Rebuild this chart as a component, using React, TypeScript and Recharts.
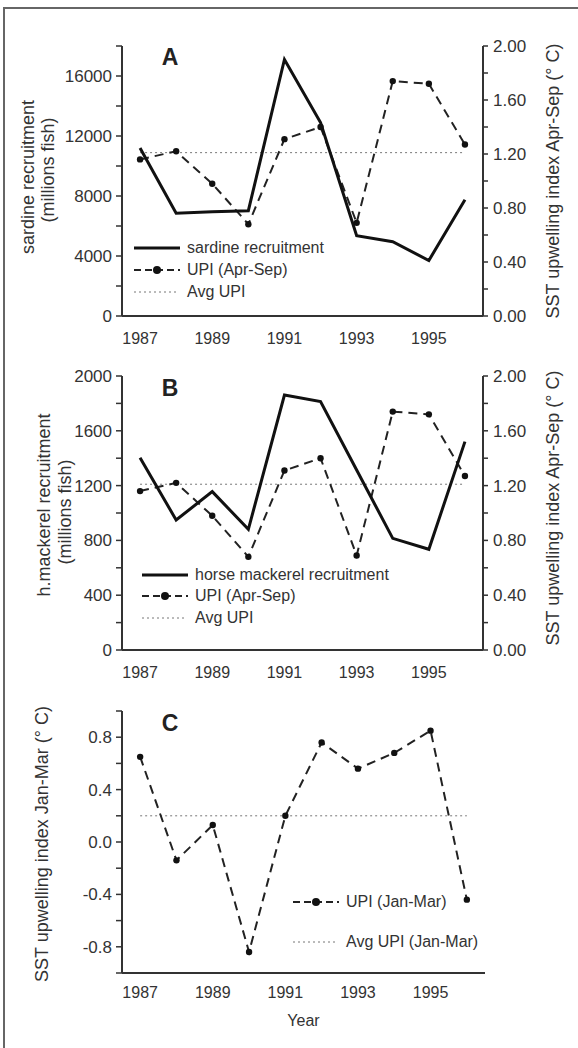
import React from 'react';
import { LineChart, Line, XAxis, YAxis, ReferenceLine, Legend } from 'recharts';

// values
const YEARS = [1987, 1988, 1989, 1990, 1991, 1992, 1993, 1994, 1995, 1996];
const SARDINE = [11200, 6850, 6950, 7020, 17100, 12900, 5350, 4950, 3700, 7750];
const HORSE_MACKEREL = [1404, 949, 1156, 881, 1861, 1813, 1314, 815, 735, 1521];
const UPI_APR_SEP = [1.16, 1.22, 0.98, 0.68, 1.31, 1.4, 0.69, 1.74, 1.72, 1.27];
const UPI_JAN_MAR = [0.65, -0.14, 0.13, -0.84, 0.2, 0.76, 0.56, 0.68, 0.85, -0.44];
const AVG_UPI_APR_SEP = 1.21;
const AVG_UPI_JAN_MAR = 0.2;

const YEAR_LABELS = [1987, 1989, 1991, 1993, 1995];
const YEAR_BOUNDS = [1987.5, 1988.5, 1989.5, 1990.5, 1991.5, 1992.5, 1993.5, 1994.5, 1995.5, 1996.5];
const SARDINE_TICKS = [0, 2000, 4000, 6000, 8000, 10000, 12000, 14000, 16000, 18000];
const MACKEREL_TICKS = [0, 200, 400, 600, 800, 1000, 1200, 1400, 1600, 1800, 2000];
const UPI_TICKS = [0, 0.2, 0.4, 0.6, 0.8, 1.0, 1.2, 1.4, 1.6, 1.8, 2.0];
const JANMAR_TICKS = [-1, -0.8, -0.6, -0.4, -0.2, 0, 0.2, 0.4, 0.6, 0.8, 1];

const rows = YEARS.map((year, i) => ({
  year,
  sardine: SARDINE[i],
  mackerel: HORSE_MACKEREL[i],
  upi: UPI_APR_SEP[i],
  upiJanMar: UPI_JAN_MAR[i],
}));

const INK = '#333';
const X_DOMAIN: [number, number] = [1986.5, 1996.5];
const axisLine = { stroke: INK, strokeWidth: 2 };
const tickLine = { stroke: INK, strokeWidth: 1.5 };
const yTick = { fill: INK, fontSize: 17 };
const xTick = { fill: INK, fontSize: 16 };
const upiDot = { r: 3.2, fill: '#111', stroke: '#111', strokeWidth: 0 };

const every = (step: number, digits: number) => (v: number) =>
  Math.abs(Math.round(v * 1000) % Math.round(step * 1000)) === 0 ? v.toFixed(digits) : '';

type TitleLine = { text: string; x: number; cy: number };
const AxisTitle = ({ lines }: { lines: TitleLine[] }) => (
  <g>
    {lines.map((l) => (
      <text
        key={l.text}
        x={l.x}
        y={l.cy}
        transform={`rotate(-90 ${l.x} ${l.cy})`}
        textAnchor="middle"
        dominantBaseline="central"
        fill={INK}
        fontSize={18}
      >
        {l.text}
      </text>
    ))}
  </g>
);

type LegendItem = { label: string; kind: 'solid' | 'dash' | 'dot' };
const PanelLegend = ({ items, rowHeight }: { items: LegendItem[]; rowHeight: number }) => (
  <div style={{ fontSize: 16, color: INK, whiteSpace: 'nowrap' }}>
    {items.map((it) => (
      <div key={it.label} style={{ display: 'flex', alignItems: 'center', height: rowHeight }}>
        <svg width={46} height={12} style={{ marginRight: 7 }}>
          {it.kind === 'solid' && <line x1={0} x2={46} y1={6} y2={6} stroke="#111" strokeWidth={3} />}
          {it.kind === 'dash' && (
            <>
              <line x1={0} x2={46} y1={6} y2={6} stroke="#222" strokeWidth={2} strokeDasharray="7 4" />
              <circle cx={23} cy={6} r={4} fill="#111" />
            </>
          )}
          {it.kind === 'dot' && (
            <line x1={0} x2={44} y1={6} y2={6} stroke="#777" strokeWidth={1} strokeDasharray="2 3" />
          )}
        </svg>
        <span>{it.label}</span>
      </div>
    ))}
  </div>
);

// axis 0 carries the tick marks at the year boundaries (next to the plot),
// axis 1 carries the year labels below it
const XAxes = ({ labelMargin, labelHeight, year }: { labelMargin: number; labelHeight: number; year?: boolean }) => [
  <XAxis
    key="lab"
    xAxisId={1}
    type="number"
    dataKey="year"
    domain={X_DOMAIN}
    allowDataOverflow
    ticks={YEAR_LABELS}
    interval={0}
    axisLine={false}
    tickLine={false}
    tickSize={0}
    tickMargin={labelMargin}
    height={labelHeight}
    tick={xTick}
    label={year ? { value: 'Year', position: 'insideBottom', offset: 5, fill: INK, fontSize: 16 } : undefined}
  />,
  <XAxis
    key="tk"
    xAxisId={0}
    type="number"
    dataKey="year"
    domain={X_DOMAIN}
    allowDataOverflow
    ticks={YEAR_BOUNDS}
    interval={0}
    tick={false}
    tickSize={6}
    height={6}
    axisLine={axisLine}
    tickLine={tickLine}
  />,
];

const PanelLetter = ({ letter, top }: { letter: string; top: number }) => (
  <div
    style={{
      position: 'absolute',
      left: 158,
      top,
      width: 24,
      textAlign: 'center',
      fontSize: 23,
      fontWeight: 'bold',
      lineHeight: '23px',
      color: '#222',
    }}
  >
    {letter}
  </div>
);

const UpiRightAxis = ({ cy }: { cy: number }) => (
  <YAxis
    yAxisId="r"
    orientation="right"
    domain={[0, 2]}
    ticks={UPI_TICKS}
    interval={0}
    width={95}
    tickSize={5}
    tickMargin={5}
    tickFormatter={every(0.4, 2)}
    axisLine={axisLine}
    tickLine={tickLine}
    tick={yTick}
    label={<AxisTitle lines={[{ text: 'SST upwelling index Apr-Sep (° C)', x: 553, cy }]} />}
  />
);

const AvgLine = ({ yAxisId, value }: { yAxisId: string; value: number }) => (
  <ReferenceLine
    xAxisId={0}
    yAxisId={yAxisId}
    segment={[
      { x: YEARS[0], y: value },
      { x: YEARS[YEARS.length - 1], y: value },
    ]}
    stroke="#777"
    strokeWidth={1}
    strokeDasharray="2 3"
  />
);

export default function App() {
  return (
    <div
      style={{
        position: 'absolute',
        left: 0,
        top: 0,
        width: 578,
        height: 1048,
        overflow: 'hidden',
        background: '#fff',
        fontFamily: '"Liberation Sans", Arial, sans-serif',
      }}
    >
      <div
        style={{
          position: 'absolute',
          left: 3,
          top: 7,
          width: 640,
          height: 1100,
          border: '2px solid #666',
        }}
      />

      {/* A */}
      <div style={{ position: 'absolute', left: 0, top: 0 }}>
        <LineChart width={578} height={350} data={rows} margin={{ top: 46, right: 0, bottom: 0, left: 0 }}>
          {XAxes({ labelMargin: 11, labelHeight: 28 })}
          <YAxis
            yAxisId="l"
            domain={[0, 18000]}
            ticks={SARDINE_TICKS}
            interval={0}
            width={122}
            tickSize={6}
            tickMargin={4}
            tickFormatter={(v: number) => (v % 4000 === 0 ? String(v) : '')}
            axisLine={axisLine}
            tickLine={tickLine}
            tick={yTick}
            label={
              <AxisTitle
                lines={[
                  { text: 'sardine recruitment', x: 28, cy: 177 },
                  { text: '(millions fish)', x: 48, cy: 170 },
                ]}
              />
            }
          />
          {UpiRightAxis({ cy: 181 })}
          {AvgLine({ yAxisId: 'r', value: AVG_UPI_APR_SEP })}
          <Line
            xAxisId={0}
            yAxisId="r"
            dataKey="upi"
            stroke="#222"
            strokeWidth={2}
            strokeDasharray="9 6"
            dot={upiDot}
            isAnimationActive={false}
          />
          <Line
            xAxisId={0}
            yAxisId="l"
            dataKey="sardine"
            stroke="#111"
            strokeWidth={3}
            dot={false}
            isAnimationActive={false}
          />
          <Legend
            layout="vertical"
            align="center"
            verticalAlign="middle"
            wrapperStyle={{ left: 134, top: 237, width: 'auto' }}
            content={() => (
              <PanelLegend
                rowHeight={22}
                items={[
                  { label: 'sardine recruitment', kind: 'solid' },
                  { label: 'UPI (Apr-Sep)', kind: 'dash' },
                  { label: 'Avg UPI', kind: 'dot' },
                ]}
              />
            )}
          />
        </LineChart>
      </div>
      <PanelLetter letter="A" top={46} />

      {/* B */}
      <div style={{ position: 'absolute', left: 0, top: 350 }}>
        <LineChart width={578} height={340} data={rows} margin={{ top: 26, right: 0, bottom: 6, left: 0 }}>
          {XAxes({ labelMargin: 11, labelHeight: 28 })}
          <YAxis
            yAxisId="l"
            domain={[0, 2000]}
            ticks={MACKEREL_TICKS}
            interval={0}
            width={122}
            tickSize={6}
            tickMargin={4}
            tickFormatter={(v: number) => (v % 400 === 0 ? String(v) : '')}
            axisLine={axisLine}
            tickLine={tickLine}
            tick={yTick}
            label={
              <AxisTitle
                lines={[
                  { text: 'h.mackerel recruitment', x: 44, cy: 155 },
                  { text: '(millions fish)', x: 65, cy: 162 },
                ]}
              />
            }
          />
          {UpiRightAxis({ cy: 158 })}
          {AvgLine({ yAxisId: 'r', value: AVG_UPI_APR_SEP })}
          <Line
            xAxisId={0}
            yAxisId="r"
            dataKey="upi"
            stroke="#222"
            strokeWidth={2}
            strokeDasharray="9 6"
            dot={upiDot}
            isAnimationActive={false}
          />
          <Line
            xAxisId={0}
            yAxisId="l"
            dataKey="mackerel"
            stroke="#111"
            strokeWidth={3}
            dot={false}
            isAnimationActive={false}
          />
          <Legend
            layout="vertical"
            align="center"
            verticalAlign="middle"
            wrapperStyle={{ left: 142, top: 214, width: 'auto' }}
            content={() => (
              <PanelLegend
                rowHeight={21.5}
                items={[
                  { label: 'horse mackerel recruitment', kind: 'solid' },
                  { label: 'UPI (Apr-Sep)', kind: 'dash' },
                  { label: 'Avg UPI', kind: 'dot' },
                ]}
              />
            )}
          />
        </LineChart>
      </div>
      <PanelLetter letter="B" top={377} />

      {/* C */}
      <div style={{ position: 'absolute', left: 0, top: 690 }}>
        <LineChart width={578} height={358} data={rows} margin={{ top: 21, right: 93, bottom: 17, left: 0 }}>
          {XAxes({ labelMargin: 8, labelHeight: 52, year: true })}
          <YAxis
            yAxisId="l"
            domain={[-1, 1]}
            ticks={JANMAR_TICKS}
            interval={0}
            width={122}
            tickSize={6}
            tickMargin={4}
            tickFormatter={every(0.4, 1)}
            axisLine={axisLine}
            tickLine={tickLine}
            tick={yTick}
            label={<AxisTitle lines={[{ text: 'SST upwelling index Jan-Mar (° C)', x: 42, cy: 154 }]} />}
          />
          {AvgLine({ yAxisId: 'l', value: AVG_UPI_JAN_MAR })}
          <Line
            xAxisId={0}
            yAxisId="l"
            dataKey="upiJanMar"
            stroke="#222"
            strokeWidth={2}
            strokeDasharray="9 6"
            dot={upiDot}
            isAnimationActive={false}
          />
          <Legend
            layout="vertical"
            align="center"
            verticalAlign="middle"
            wrapperStyle={{ left: 293, top: 192, width: 'auto' }}
            content={() => (
              <PanelLegend
                rowHeight={40}
                items={[
                  { label: 'UPI (Jan-Mar)', kind: 'dash' },
                  { label: 'Avg UPI (Jan-Mar)', kind: 'dot' },
                ]}
              />
            )}
          />
        </LineChart>
      </div>
      <PanelLetter letter="C" top={712} />
    </div>
  );
}
